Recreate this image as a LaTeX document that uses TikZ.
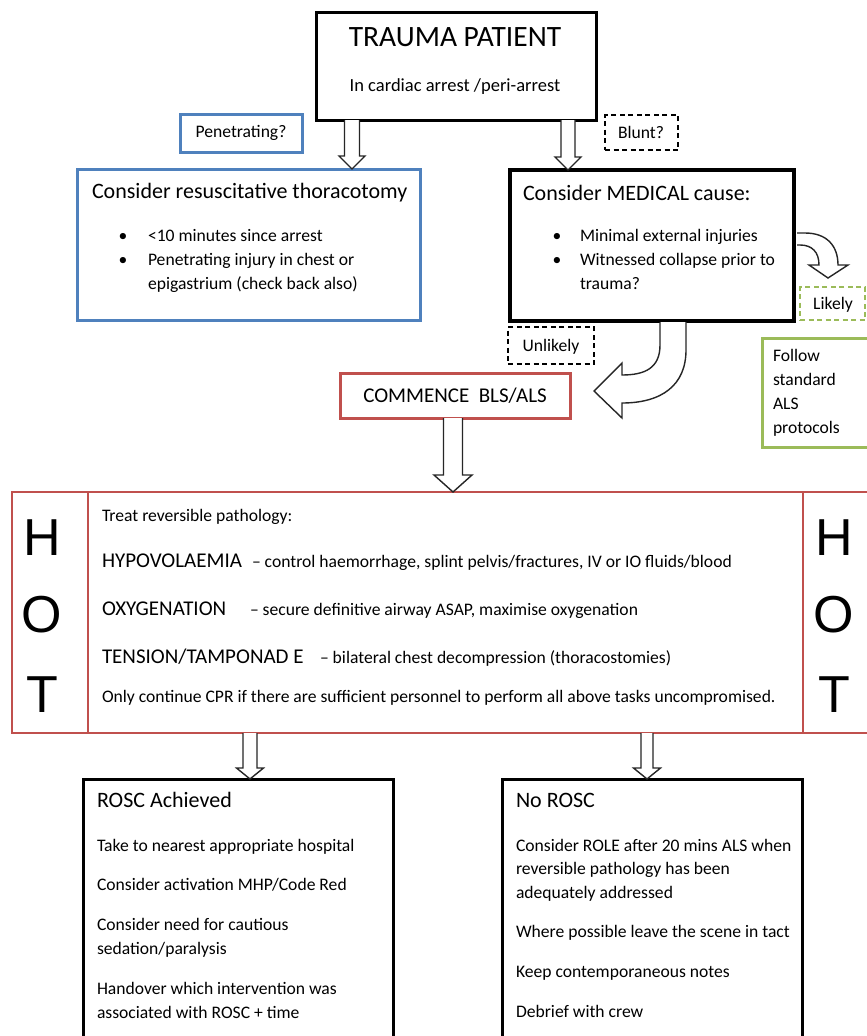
\documentclass[tikz,border=0pt]{standalone}
\usepackage{fontspec}
\setmainfont{Carlito}
\newfontfamily\hotfont{Liberation Sans}
\usetikzlibrary{calc}
\definecolor{ublue}{HTML}{4F81BD}
\definecolor{ured}{HTML}{C0504D}
\definecolor{ugreen}{HTML}{9BBB59}
\newcommand{\vblock}[5]{%
  \draw[blk] let \p1=#1, \p2=#2 in
    (\x2-#3,\y1) -- (\x2-#3,\y2+#5) -- (\x2-#4,\y2+#5) -- (\x2,\y2)
    -- (\x2+#4,\y2+#5) -- (\x2+#3,\y2+#5) -- (\x2+#3,\y1);}
\begin{document}
\begin{tikzpicture}[x=1pt,y=-1pt,
  every node/.style={inner sep=0pt, outer sep=0pt, text=black},
  t17/.style={font=\fontsize{17.6}{20}\selectfont},
  t21/.style={font=\fontsize{22}{25}\selectfont},
  t20/.style={font=\fontsize{21}{24}\selectfont},
  hotl/.style={font=\hotfont\fontsize{52}{52}\selectfont, anchor=base},
  box/.style={anchor=north west, draw, line width=3pt, fill=white},
  dbox/.style={anchor=north west, draw, line width=1.4pt, dash pattern=on 5pt off 3.5pt, fill=white},
  blk/.style={draw=black!85, line width=1.4pt, fill=white, line join=miter},
]
\path[use as bounding box, fill=white] (0,0) rectangle (867,1036);
\clip (0,0) rectangle (867,1036);

% ---------- boxes ----------
\node[box, minimum width=280pt, minimum height=108pt] (trauma) at (316,12) {};
\node[box, draw=ublue, minimum width=122pt, minimum height=38pt] (pen) at (180,114) {};
\node[dbox, minimum width=73pt, minimum height=35pt] (blunt) at (605,115) {};
\node[box, draw=ublue, minimum width=343pt, minimum height=151pt] (thor) at (77,169) {};
\node[box, line width=3.5pt, minimum width=284pt, minimum height=151pt] (medical) at (510,170) {};
\node[dbox, draw=ugreen, minimum width=65pt, minimum height=33pt] (likely) at (800,287) {};
\node[dbox, minimum width=86pt, minimum height=37pt] (unlikely) at (508,327) {};
\node[box, draw=ugreen, minimum width=130pt, minimum height=109pt] (follow) at (762,338) {};
\node[box, draw=ured, minimum width=230pt, minimum height=45pt] (commence) at (340,373) {};
\node[box, draw=ured, line width=2.5pt, minimum width=880pt, minimum height=241pt] (hot) at (12,492) {};
\node[box, minimum width=310pt, minimum height=300pt] (rosc) at (83,779) {};
\node[box, minimum width=300pt, minimum height=300pt] (norosc) at (502,779) {};

% HOT dividers
\coordinate (d1) at (88,0);
\coordinate (d2) at (803,0);
\draw[ured, line width=2.5pt] (hot.north -| d1) -- (hot.south -| d1);
\draw[ured, line width=2.5pt] (hot.north -| d2) -- (hot.south -| d2);

% ---------- texts ----------
\node[anchor=base, font=\fontsize{29.5}{32}\selectfont] (tt) at (455,46) {TRAUMA PATIENT};
\node[anchor=base, font=\fontsize{18.5}{21}\selectfont] (ts) at (455,91) {In cardiac arrest /peri-arrest};
\node[t17, anchor=base] (pent) at (241,137) {Penetrating?};
\node[t17, anchor=base] (bluntt) at (641,138) {Blunt?};

\node[t21, anchor=base west] (tht) at (92,198) {Consider resuscitative thoracotomy};
\node[t17, anchor=base] (thb1) at (123,241) {•};
\node[t17, anchor=base west] (tht1) at (148,241) {<10 minutes since arrest};
\node[t17, anchor=base] (thb2) at (123,265) {•};
\node[t17, anchor=base west] (tht2) at (148,265) {Penetrating injury in chest or};
\node[t17, anchor=base west] (tht3) at (148,289) {epigastrium (check back also)};

\node[t21, anchor=base west] (mdt) at (523,200) {Consider MEDICAL cause:};
\node[t17, anchor=base] (mdb1) at (557,241) {•};
\node[t17, anchor=base west] (mdt1) at (580,241) {Minimal external injuries};
\node[t17, anchor=base] (mdb2) at (557,265) {•};
\node[t17, anchor=base west] (mdt2) at (580,265) {Witnessed collapse prior to};
\node[t17, anchor=base west] (mdt3) at (580,289) {trauma?};

\node[t17, anchor=base] (likt) at (833,309) {Likely};
\node[t17, anchor=base] (unlt) at (551,351) {Unlikely};
\node[t17, anchor=base west] (fo1) at (773,361) {Follow};
\node[t17, anchor=base west] (fo2) at (773,385) {standard};
\node[t17, anchor=base west] (fo3) at (773,409) {ALS};
\node[t17, anchor=base west] (fo4) at (773,433) {protocols};

\node[t20, anchor=base] (comt) at (455,402) {COMMENCE\ \ BLS/ALS};

% HOT letters
\node[hotl] (hL) at (42,555) {H};
\node[hotl] (oL) at (42,632) {O};
\node[hotl] (tL) at (42,712) {T};
\node[hotl] (hR) at (834,555) {H};
\node[hotl] (oR) at (834,632) {O};
\node[hotl] (tR) at (834,712) {T};

\node[t17, anchor=base west] (h0) at (102,521) {Treat reversible pathology:};
\node[t20, anchor=base west] (h1a) at (102,567) {HYPOVOLAEMIA};
\node[t17, anchor=base west] (h1b) at (252,567) {– control haemorrhage, splint pelvis/fractures, IV or IO fluids/blood};
\node[t20, anchor=base west] (h2a) at (102,615) {OXYGENATION};
\node[t17, anchor=base west] (h2b) at (250,615) {– secure definitive airway ASAP, maximise oxygenation};
\node[t20, anchor=base west] (h3a) at (102,663) {TENSION/TAMPONAD E};
\node[t17, anchor=base west] (h3b) at (320,663) {– bilateral chest decompression (thoracostomies)};
\node[t17, anchor=base west] (h4) at (102,702) {Only continue CPR if there are sufficient personnel to perform all above tasks uncompromised.};

\node[t21, anchor=base west] (r0) at (97,807) {ROSC Achieved};
\node[t17, anchor=base west] (r1) at (97,851) {Take to nearest appropriate hospital};
\node[t17, anchor=base west] (r2) at (97,890) {Consider activation MHP/Code Red};
\node[t17, anchor=base west] (r3) at (97,930) {Consider need for cautious};
\node[t17, anchor=base west] (r4) at (97,954) {sedation/paralysis};
\node[t17, anchor=base west] (r5) at (97,994) {Handover which intervention was};
\node[t17, anchor=base west] (r6) at (97,1018) {associated with ROSC + time};

\node[t21, anchor=base west] (n0) at (516,807) {No ROSC};
\node[t17, anchor=base west] (n1) at (516,851) {Consider ROLE after 20 mins ALS when};
\node[t17, anchor=base west] (n2) at (516,874) {reversible pathology has been};
\node[t17, anchor=base west] (n3) at (516,898) {adequately addressed};
\node[t17, anchor=base west] (n4) at (516,937) {Where possible leave the scene in tact};
\node[t17, anchor=base west] (n5) at (516,977) {Keep contemporaneous notes};
\node[t17, anchor=base west] (n6) at (516,1017) {Debrief with crew};

% ---------- block arrows ----------
\coordinate (c1) at (352,0);
\coordinate (c2) at (568,0);
\coordinate (c3) at (453,0);
\coordinate (c4) at (250,0);
\coordinate (c5) at (647,0);
\vblock{(trauma.south -| c1)}{(thor.north -| c1)}{7.5pt}{13pt}{13pt}
\vblock{(trauma.south -| c2)}{(medical.north -| c2)}{7pt}{13pt}{13pt}
\vblock{(commence.south -| c3)}{(hot.north -| c3)}{9.5pt}{19pt}{17pt}
\vblock{(hot.south -| c4)}{(rosc.north -| c4)}{7pt}{13.5pt}{11pt}
\vblock{(hot.south -| c5)}{(norosc.north -| c5)}{6pt}{13.5pt}{11pt}

% curved arrow to "Likely"
\draw[blk] (797,233) -- (805,233) .. controls (827,233) and (838,246) .. (838,265)
  -- (848,265) -- (828,278) -- (809,265) -- (819,265)
  .. controls (819,252) and (812,245) .. (800,245) -- (797,245);
% curved arrow to COMMENCE
\draw[blk] (660,322) -- (660,345) .. controls (660,368) and (645,375) .. (622,375)
  -- (622,363) -- (594,391) -- (622,418) -- (622,403)
  .. controls (662,403) and (686,385) .. (686,350) -- (686,322);
\end{tikzpicture}
\end{document}
